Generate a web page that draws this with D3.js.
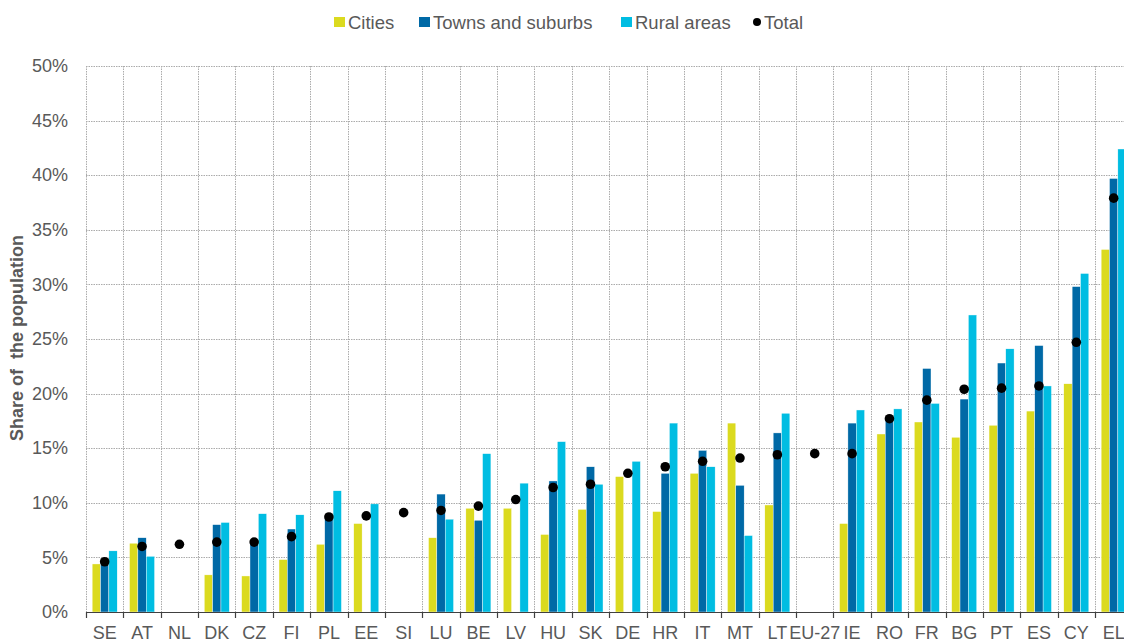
<!DOCTYPE html>
<html>
<head>
<meta charset="utf-8">
<script src="https://cdn.jsdelivr.net/npm/d3@7"></script>
<style>
  html, body { margin: 0; padding: 0; background: #fff; }
  svg { display: block; font-family: "Liberation Sans", Arial, sans-serif; }
</style>
</head>
<body>
<svg id="chart" width="1124" height="640"></svg>
<script>
// Countries, ordered by the share of the total population
const countries = ["SE","AT","NL","DK","CZ","FI","PL","EE","SI","LU","BE","LV","HU","SK",
  "DE","HR","IT","MT","LT","EU-27","IE","RO","FR","BG","PT","ES","CY","EL"];

// Share of the population (%) by degree of urbanisation; null = not available
const cities = [4.4,6.3,null,3.4,3.3,4.8,6.2,8.1,null,6.8,9.5,9.5,7.1,9.4,
  12.4,9.2,12.7,17.3,9.8,null,8.1,16.3,17.4,16.0,17.1,18.4,20.9,33.2];
const towns = [4.5,6.8,null,8.0,6.3,7.6,8.6,null,null,10.8,8.4,null,12.0,13.3,
  null,12.7,14.8,11.6,16.4,null,17.3,17.6,22.3,19.5,22.8,24.4,29.8,39.7];
const rural = [5.6,5.1,null,8.2,9.0,8.9,11.1,9.9,null,8.5,14.5,11.8,15.6,11.7,
  13.8,17.3,13.3,7.0,18.2,null,18.5,18.6,19.1,27.2,24.1,20.7,31.0,42.4];
const total = [4.6,6.0,6.2,6.4,6.4,6.9,8.7,8.8,9.1,9.3,9.7,10.3,11.4,11.7,
  12.7,13.3,13.8,14.1,14.4,14.5,14.5,17.7,19.4,20.4,20.5,20.7,24.7,37.9];

const seriesNames = ["Cities", "Towns and suburbs", "Rural areas"];
const seriesValues = [cities, towns, rural];
const seriesColors = ["#DBDA1F", "#0069A6", "#00BDE2"];
const yTicks = [0,5,10,15,20,25,30,35,40,45,50];

const svg = d3.select("#chart");
const textColor = "#595959";
const gridColor = "#ABABAB";

const plotLeft = 86, plotTop = 66, plotBottom = 612, band = 37.37;
const plotRight = plotLeft + band * countries.length;

const x = d3.scaleBand().domain(countries).range([plotLeft, plotRight]).padding(0);
const x1 = d3.scaleBand().domain(seriesNames)
  .range([band * 0.165, band * 0.835]).padding(0);
const y = d3.scaleLinear().domain([0, 50]).range([plotBottom, plotTop]);

// Horizontal gridlines
svg.append("g").selectAll("line").data(yTicks).join("line")
  .attr("x1", plotLeft).attr("x2", plotRight)
  .attr("y1", d => Math.round(y(d)) + 0.5).attr("y2", d => Math.round(y(d)) + 0.5)
  .attr("stroke", gridColor).attr("stroke-width", 1)
  .attr("stroke-dasharray", "1.5,1");

// Vertical gridlines at category boundaries
const bounds = countries.map(c => x(c)).concat([plotRight]);
svg.append("g").selectAll("line").data(bounds).join("line")
  .attr("x1", d => Math.round(d) + 0.5).attr("x2", d => Math.round(d) + 0.5)
  .attr("y1", plotTop).attr("y2", plotBottom)
  .attr("stroke", gridColor).attr("stroke-width", 1)
  .attr("stroke-dasharray", "1.5,1");

// Y axis labels
const yAxis = d3.axisLeft(y).tickValues(yTicks).tickFormat(d => d + "%").tickSize(0).tickPadding(18);
const gy = svg.append("g").attr("transform", `translate(${plotLeft},0)`).call(yAxis);
gy.select(".domain").remove();
gy.selectAll("text").attr("fill", textColor).attr("font-size", 18)
  .attr("font-family", "Liberation Sans, Arial, sans-serif");

// Bars
countries.forEach((c, i) => {
  seriesValues.forEach((vals, s) => {
    const v = vals[i];
    if (v == null) return;
    svg.append("rect")
      .attr("x", x(c) + x1(seriesNames[s]))
      .attr("width", x1.bandwidth())
      .attr("y", y(v))
      .attr("height", y(0) - y(v))
      .attr("fill", seriesColors[s])
      .attr("stroke", "#ffffff").attr("stroke-width", 0.4);
  });
});

// X axis with category labels
const xAxis = d3.axisBottom(x).tickSize(0).tickPadding(14);
const gx = svg.append("g").attr("transform", `translate(0,${plotBottom})`).call(xAxis);
gx.select(".domain").remove();
gx.selectAll("text").attr("fill", textColor).attr("font-size", 18)
  .attr("font-family", "Liberation Sans, Arial, sans-serif");

svg.append("line").attr("x1", plotLeft).attr("x2", plotRight)
  .attr("y1", plotBottom + 0.5).attr("y2", plotBottom + 0.5)
  .attr("stroke", "#404040").attr("stroke-width", 1.2);
svg.append("g").selectAll("line").data(bounds).join("line")
  .attr("x1", d => Math.round(d) + 0.5).attr("x2", d => Math.round(d) + 0.5)
  .attr("y1", plotBottom).attr("y2", plotBottom + 6)
  .attr("stroke", "#404040").attr("stroke-width", 1.2);

// Total markers
svg.append("g").selectAll("circle").data(countries).join("circle")
  .attr("cx", c => x(c) + x.bandwidth() / 2)
  .attr("cy", (c, i) => y(total[i]))
  .attr("r", 4.8).attr("fill", "#000");

// Y axis title
svg.append("text")
  .attr("transform", `translate(23,338) rotate(-90)`)
  .attr("text-anchor", "middle")
  .attr("font-size", 18).attr("font-weight", "bold")
  .attr("fill", textColor)
  .attr("xml:space", "preserve")
  .style("white-space", "pre")
  .text("Share of  the population");

// Legend
const legendItems = [
  { name: "Cities", color: seriesColors[0], type: "rect", x: 334 },
  { name: "Towns and suburbs", color: seriesColors[1], type: "rect", x: 419 },
  { name: "Rural areas", color: seriesColors[2], type: "rect", x: 621 },
  { name: "Total", color: "#000", type: "circle", x: 753 }
];
const lg = svg.append("g");
legendItems.forEach(it => {
  if (it.type === "rect") {
    lg.append("rect").attr("x", it.x).attr("y", 17).attr("width", 11).attr("height", 10)
      .attr("fill", it.color);
  } else {
    lg.append("circle").attr("cx", it.x + 4).attr("cy", 22).attr("r", 4).attr("fill", it.color);
  }
  lg.append("text").attr("x", it.x + (it.type === "rect" ? 14 : 11)).attr("y", 29)
    .attr("font-size", 18.5).attr("fill", textColor).text(it.name);
});
</script>
</body>
</html>
